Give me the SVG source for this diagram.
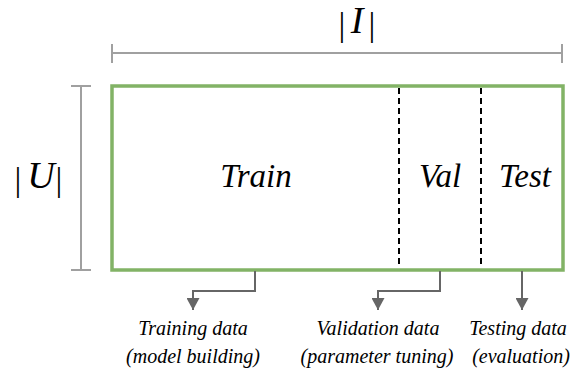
<svg xmlns="http://www.w3.org/2000/svg" width="584" height="371" viewBox="0 0 584 371">
<style>
.dim{stroke:#a0a0a0;stroke-width:2;fill:none}
.con{stroke:#666666;stroke-width:2;fill:none}
.split{stroke:#000;stroke-width:2;stroke-dasharray:6 4;fill:none}
text{font-family:'Times New Roman',Times,'Liberation Serif','DejaVu Serif',serif;fill:#000}
.big{font-style:italic;font-size:33px;text-anchor:middle}
.lbl{font-style:italic;font-size:20px;text-anchor:middle}
</style>
<defs>
<marker id="arr" markerWidth="13" markerHeight="13" refX="12" refY="6.5" orient="auto" markerUnits="userSpaceOnUse">
<path d="M0,0 L12,6.5 L0,13 z" fill="#666666"/>
</marker>
</defs>
<g id="dim-I">
<path class="dim" d="M112,53 H562 M112,44 V63 M562,44 V63"/>
<text text-anchor="middle"><tspan x="342" y="36" font-size="34">|</tspan><tspan x="357" y="33" font-size="38" font-style="italic">I</tspan><tspan x="372" y="36" font-size="34">|</tspan></text>
</g>
<g id="dim-U">
<path class="dim" d="M81,86 V270 M71,86 H91 M71,270 H91"/>
<text text-anchor="middle"><tspan x="18" y="191" font-size="34">|</tspan><tspan x="41" y="188" font-size="38" font-style="italic">U</tspan><tspan x="59" y="191" font-size="34">|</tspan></text>
</g>
<g id="matrix">
<rect x="112" y="86" width="451" height="184" fill="#fff" stroke="#82b366" stroke-width="3.5"/>
<path class="split" d="M399,88 V268 M481,88 V268"/>
</g>
<g id="train"><text class="big" x="256" y="187">Train</text></g>
<g id="val"><text class="big" x="440" y="187">Val</text></g>
<g id="test"><text class="big" x="525" y="187">Test</text></g>
<g id="connectors">
<path class="con" d="M255,271 V291 H193 V310" marker-end="url(#arr)"/>
<path class="con" d="M440,271 V291 H378 V310" marker-end="url(#arr)"/>
<path class="con" d="M522,271 V310" marker-end="url(#arr)"/>
</g>
<g id="training-data"><text class="lbl" x="193" y="335">Training data</text><text class="lbl" x="193" y="363">(model building)</text></g>
<g id="validation-data"><text class="lbl" x="378" y="335">Validation data</text><text class="lbl" x="377" y="363">(parameter tuning)</text></g>
<g id="testing-data"><text class="lbl" x="518" y="335">Testing data</text><text class="lbl" x="521" y="363">(evaluation)</text></g>
</svg>
